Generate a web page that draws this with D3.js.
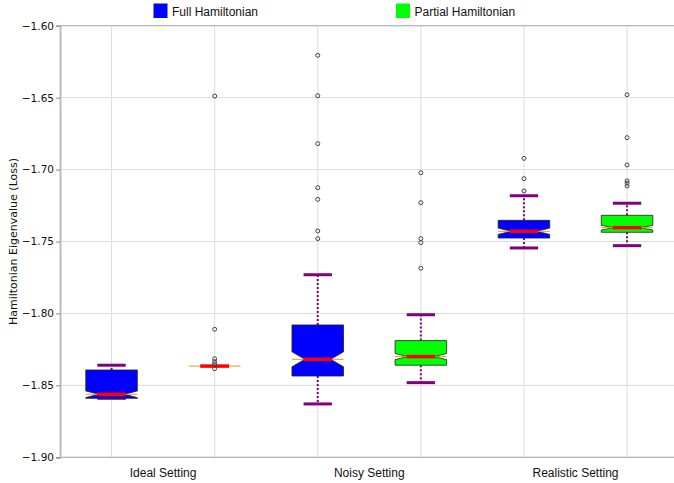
<!DOCTYPE html>
<html><head><meta charset="utf-8">
<script src="https://cdn.jsdelivr.net/npm/d3@7"></script>
<style>
html,body{margin:0;padding:0;background:#fff;}
svg{display:block;}
</style></head>
<body>
<svg id="chart" width="674" height="483"></svg>
<script>
// ---- data ----
const categories = ["Ideal Setting", "Noisy Setting", "Realistic Setting"];
const seriesNames = ["Full Hamiltonian", "Partial Hamiltonian"];
const seriesColors = ["#0000ff", "#00ff00"];
const yTicks = [-1.90, -1.85, -1.80, -1.75, -1.70, -1.65, -1.60];

const fullQ1       = [-1.8590, -1.8435, -1.7476];
const fullMedian   = [-1.8562, -1.8319, -1.7429];
const fullQ3       = [-1.8393, -1.8080, -1.7353];
const fullWhiskLo  = [-1.8590, -1.8629, -1.7545];
const fullWhiskHi  = [-1.8360, -1.7731, -1.7182];
const fullNotch    = [0.0023, 0.0052, 0.0022];
const fullOutliers = [
  [],
  [-1.6206, -1.6487, -1.6820, -1.7126, -1.7207, -1.7427, -1.7480],
  [-1.6922, -1.7063, -1.7149]
];

const partQ1       = [-1.8366, -1.8360, -1.7436];
const partMedian   = [-1.8366, -1.8300, -1.7404];
const partQ3       = [-1.8366, -1.8189, -1.7318];
const partWhiskLo  = [-1.8366, -1.8481, -1.7529];
const partWhiskHi  = [-1.8366, -1.8009, -1.7234];
const partNotch    = [0.0, 0.0021, 0.0016];
const partOutliers = [
  [-1.6489, -1.8110, -1.8315, -1.8335, -1.8350, -1.8384],
  [-1.7022, -1.7230, -1.7480, -1.7508, -1.7686],
  [-1.6480, -1.6778, -1.6968, -1.7079, -1.7095, -1.7114]
];

// ---- build table ----
const boxes = [];
categories.forEach((c, i) => {
  boxes.push({cat: c, s: 0, key: c + "|0", q1: fullQ1[i], med: fullMedian[i], q3: fullQ3[i],
    lo: fullWhiskLo[i], hi: fullWhiskHi[i], notch: fullNotch[i], out: fullOutliers[i]});
  boxes.push({cat: c, s: 1, key: c + "|1", q1: partQ1[i], med: partMedian[i], q3: partQ3[i],
    lo: partWhiskLo[i], hi: partWhiskHi[i], notch: partNotch[i], out: partOutliers[i]});
});

const svg = d3.select("#chart");
const pLeft = 60, pRight = 678.6, pTop = 25.7, pBottom = 457.3;

const x = d3.scaleBand().domain(boxes.map(d => d.key)).range([pLeft, pRight]).padding(0);
const y = d3.scaleLinear().domain([-1.90, -1.60]).range([pBottom, pTop]);
const bw = x.bandwidth() * 0.5;
const cx = d => x(d.key) + x.bandwidth() / 2;

// grid
svg.append("g").selectAll("line").data(yTicks).join("line")
  .attr("x1", pLeft).attr("x2", 674).attr("y1", d => y(d)).attr("y2", d => y(d))
  .attr("stroke", "#dcdcdc").attr("stroke-width", 1);
svg.append("g").selectAll("line").data(boxes).join("line")
  .attr("x1", d => cx(d)).attr("x2", d => cx(d)).attr("y1", pTop).attr("y2", pBottom)
  .attr("stroke", "#dcdcdc").attr("stroke-width", 1);

// spines
svg.append("line").attr("x1", pLeft).attr("x2", 674).attr("y1", pTop).attr("y2", pTop)
  .attr("stroke", "#b5b5b5").attr("stroke-width", 1.3);
svg.append("line").attr("x1", pLeft).attr("x2", 674).attr("y1", pBottom).attr("y2", pBottom)
  .attr("stroke", "#b5b5b5").attr("stroke-width", 1.3);

// y axis
const yAxis = svg.append("g").attr("transform", `translate(${pLeft},0)`)
  .call(d3.axisLeft(y).tickValues(yTicks).tickFormat(d3.format(".2f")).tickSize(4).tickPadding(2));
yAxis.select(".domain").attr("stroke", "#b5b5b5").attr("stroke-width", 1.8);
yAxis.selectAll(".tick line").attr("stroke", "#888");
yAxis.selectAll("text").attr("font-family", "DejaVu Sans").attr("font-size", "10.5px").attr("fill", "#111");

// y title
svg.append("text").attr("transform", `translate(17,${(pTop + pBottom) / 2}) rotate(-90)`)
  .attr("text-anchor", "middle").attr("font-family", "DejaVu Sans").attr("font-size", "11px")
  .attr("fill", "#111").text("Hamiltonian Eigenvalue (Loss)");

// x category labels
svg.append("g").selectAll("text").data(categories).join("text")
  .attr("x", c => (x(c + "|0") + x(c + "|1") + x.bandwidth()) / 2)
  .attr("y", 477).attr("text-anchor", "middle")
  .attr("font-family", "Liberation Sans, Arial").attr("font-size", "12px").attr("fill", "#111")
  .text(c => c);

// whiskers
const g = svg.append("g");
g.append("g").selectAll("line").data(boxes).join("line")
  .attr("x1", cx).attr("x2", cx).attr("y1", d => y(d.q1)).attr("y2", d => y(d.lo))
  .attr("stroke", "#800080").attr("stroke-width", 2).attr("stroke-dasharray", "2,2");
g.append("g").selectAll("line").data(boxes).join("line")
  .attr("x1", cx).attr("x2", cx).attr("y1", d => y(d.q3)).attr("y2", d => y(d.hi))
  .attr("stroke", "#800080").attr("stroke-width", 2).attr("stroke-dasharray", "2,2");
// caps
const capW = bw * 0.55;
["lo", "hi"].forEach(k => {
  g.append("g").selectAll("line").data(boxes.filter(d => d.hi !== d.lo)).join("line")
    .attr("x1", d => cx(d) - capW / 2).attr("x2", d => cx(d) + capW / 2)
    .attr("y1", d => y(d[k])).attr("y2", d => y(d[k]))
    .attr("stroke", "#800080").attr("stroke-width", 3);
});

// boxes (notched)
g.append("g").selectAll("path").data(boxes.filter(d => d.q1 !== d.q3)).join("path")
  .attr("d", d => {
    const l = cx(d) - bw / 2, r = cx(d) + bw / 2, wl = cx(d) - bw / 4, wr = cx(d) + bw / 4;
    const nlo = y(d.med - d.notch), nhi = y(d.med + d.notch), m = y(d.med);
    return `M${l},${y(d.q1)}L${l},${nlo}L${wl},${m}L${l},${nhi}L${l},${y(d.q3)}` +
      `L${r},${y(d.q3)}L${r},${nhi}L${wr},${m}L${r},${nlo}L${r},${y(d.q1)}Z`;
  })
  .attr("fill", d => seriesColors[d.s]).attr("stroke", "#222").attr("stroke-width", 0.8);

// median: thin orange full width + thick red at waist
g.append("g").selectAll("line").data(boxes).join("line")
  .attr("x1", d => cx(d) - bw / 2).attr("x2", d => cx(d) + bw / 2)
  .attr("y1", d => y(d.med)).attr("y2", d => y(d.med))
  .attr("stroke", "#ff8c1a").attr("stroke-width", 1);
g.append("g").selectAll("line").data(boxes).join("line")
  .attr("x1", d => cx(d) - bw * 0.28).attr("x2", d => cx(d) + bw * 0.28)
  .attr("y1", d => y(d.med)).attr("y2", d => y(d.med))
  .attr("stroke", "#ff0000").attr("stroke-width", 3.5);

// outliers
const pts = [];
boxes.forEach(d => d.out.forEach(v => pts.push({d, v})));
g.append("g").selectAll("circle").data(pts).join("circle")
  .attr("cx", p => cx(p.d)).attr("cy", p => y(p.v)).attr("r", 2)
  .attr("fill", "none").attr("stroke", "#444").attr("stroke-width", 1);

// legend
const leg = svg.append("g");
const legX = [153.5, 396];
seriesNames.forEach((n, i) => {
  leg.append("rect").attr("x", legX[i]).attr("y", 3.5).attr("width", 14).attr("height", 14.5)
    .attr("fill", seriesColors[i]);
  leg.append("text").attr("x", legX[i] + 18.5).attr("y", 15.5)
    .attr("font-family", "Liberation Sans, Arial").attr("font-size", "12px").attr("fill", "#111")
    .text(n);
});
</script>
</body></html>
